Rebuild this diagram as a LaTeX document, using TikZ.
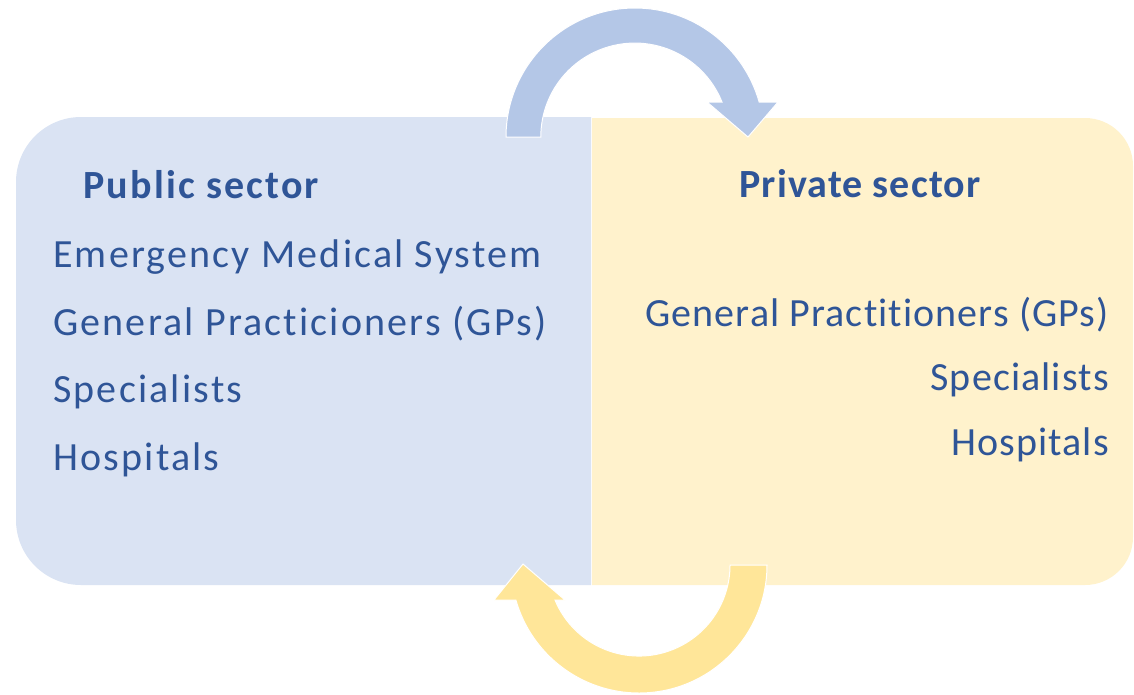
\documentclass[tikz,border=0pt]{standalone}
\usepackage{fontspec}
\setmainfont{Carlito}
\newfontfamily\leftfont[LetterSpace=5.5,Ligatures=NoCommon]{Carlito}
\newfontfamily\rightfont[LetterSpace=2.8,Ligatures=NoCommon]{Carlito}
\definecolor{pubfill}{HTML}{DAE3F3}
\definecolor{privfill}{HTML}{FFF2CC}
\definecolor{bluearrow}{HTML}{B4C7E7}
\definecolor{yellowarrow}{HTML}{FFE699}
\definecolor{txt}{HTML}{2F5597}
\tikzset{
  litem/.style={inner sep=0pt, text=txt, font=\leftfont\fontsize{40}{48}\selectfont},
  lhead/.style={inner sep=0pt, text=txt, font=\leftfont\fontsize{40}{48}\selectfont\bfseries},
  ritem/.style={inner sep=0pt, text=txt, font=\rightfont\fontsize{40}{48}\selectfont},
  rhead/.style={inner sep=0pt, text=txt, font=\rightfont\fontsize{40}{48}\selectfont\bfseries},
  arrowshape/.style={draw=white, line width=1pt, line join=miter},
}
\begin{document}
\begin{tikzpicture}[x=1pt,y=-1pt]
\useasboundingbox (0,0) rectangle (1134,694);
% boxes
\fill[pubfill] (591,117) -- (591,585) -- (81,585) arc[start angle=90, end angle=180, radius=65]
  -- (16,182) arc[start angle=180, end angle=270, radius=65] -- cycle;
\fill[privfill] (592,118) -- (1085,118) arc[start angle=-90, end angle=0, radius=48]
  -- (1133,537) arc[start angle=0, end angle=90, radius=48] -- (592,585) -- cycle;
% top arrow (blue)
\filldraw[arrowshape, fill=bluearrow] (506,137) arc[start angle=-180, end angle=-15.7, radius=129]
  -- (778,102) -- (748,137) -- (707,102) -- (722,102)
  arc[start angle=-21.9, end angle=-180, radius=94] -- cycle;
% bottom arrow (yellow)
\filldraw[arrowshape, fill=yellowarrow] (767,565) arc[start angle=0, end angle=164.1, radius=128]
  -- (494,600) -- (523,564) -- (565,600) -- (555,600)
  arc[start angle=157.4, end angle=0, radius=91] -- cycle;
% texts
\node[lhead, anchor=base west] (pubh) at (83,198) {Public sector};
\node[litem, anchor=base west] (p1) at (53,267) {Emergency Medical System};
\node[litem, anchor=base west] (p2) at (53,335) {General Practicioners (GPs)};
\node[litem, anchor=base west] (p3) at (53,402) {Specialists};
\node[litem, anchor=base west] (p4) at (53,470) {Hospitals};
\node[rhead, anchor=base] (privh) at (860,197) {Private sector};
\node[ritem, anchor=base east] (r1) at (1109,326) {General Practitioners (GPs)};
\node[ritem, anchor=base east] (r2) at (1109,390) {Specialists};
\node[ritem, anchor=base east] (r3) at (1109,455) {Hospitals};
\end{tikzpicture}
\end{document}
